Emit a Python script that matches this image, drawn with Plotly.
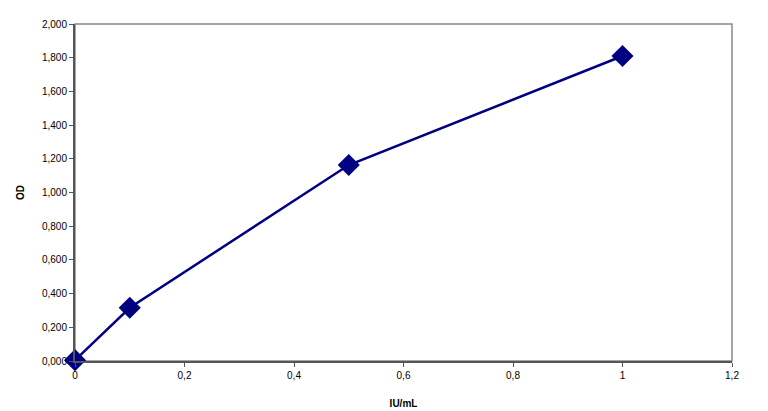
import plotly.graph_objects as go

x_vals = [0, 0.1, 0.5, 1]
od_vals = [0.005, 0.316, 1.163, 1.81]

fig = go.Figure()
fig.add_trace(go.Scatter(
    x=x_vals, y=od_vals, mode="lines+markers",
    line=dict(color="#000080", width=2.5),
    marker=dict(symbol="diamond", size=17, color="#000080"),
    cliponaxis=False,
    showlegend=False,
))

font = dict(family="Liberation Sans, Arial, sans-serif", size=10, color="#000000")
fig.update_layout(
    width=760, height=403,
    margin=dict(l=67, r=36, t=16, b=50),
    paper_bgcolor="white", plot_bgcolor="white",
    separators=",.",
    font=font,
    xaxis=dict(
        range=[0, 1.2], tickvals=[0, 0.2, 0.4, 0.6, 0.8, 1, 1.2],
        showgrid=False, zeroline=False, showline=True, linecolor="#555555", linewidth=2,
        mirror=False, ticks="outside", ticklen=4, tickcolor="#555555",
        automargin=False,
        title=dict(text="<b>IU/mL</b>", font=dict(size=10), standoff=20),
    ),
    yaxis=dict(
        range=[0, 2], tickvals=[0, 0.2, 0.4, 0.6, 0.8, 1, 1.2, 1.4, 1.6, 1.8, 2],
        tickformat=".3f",
        showgrid=False, zeroline=False, showline=True, linecolor="#555555", linewidth=2,
        ticks="outside", ticklen=4, tickcolor="#555555",
        automargin=False,
        title=dict(text="<b>OD</b>", font=dict(size=10), standoff=15),
    ),
    shapes=[dict(type="rect", xref="paper", yref="paper", x0=0, y0=0, x1=1, y1=1,
                 line=dict(color="#888888", width=1.5), layer="below")],
)
fig.write_html("out.html")
